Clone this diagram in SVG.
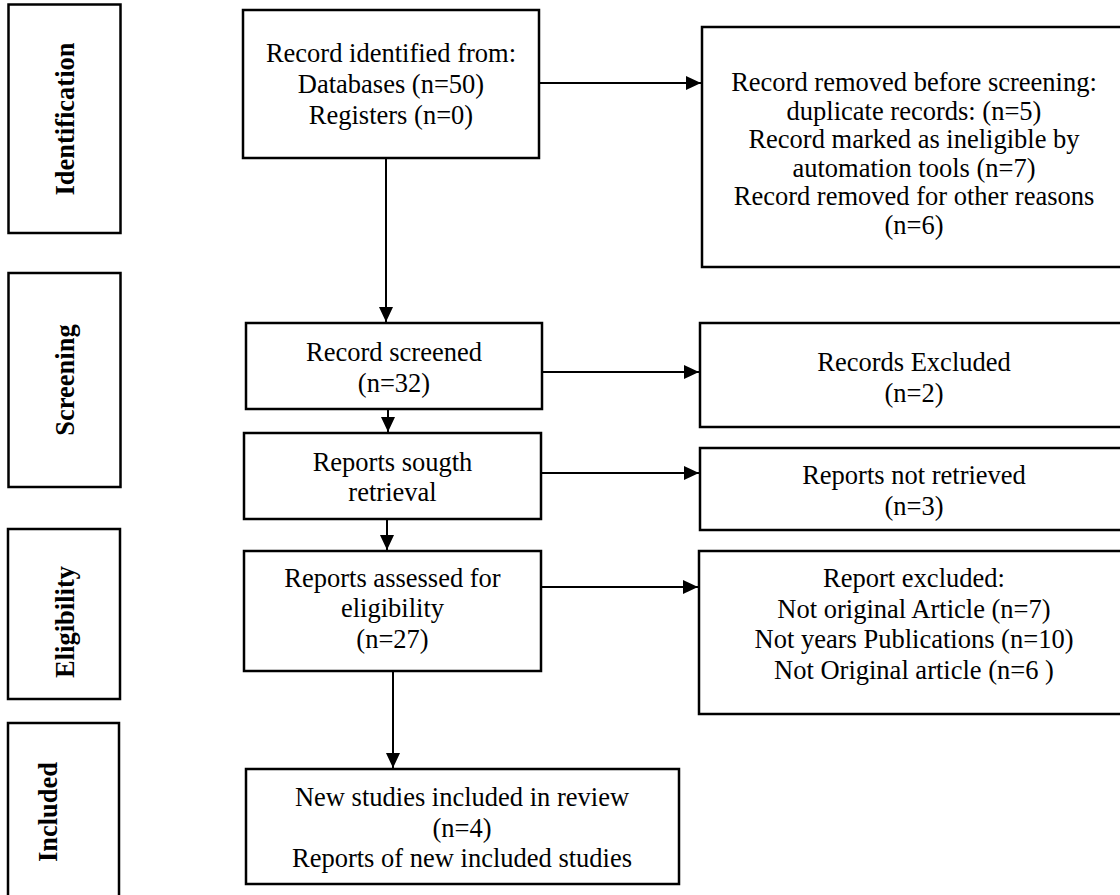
<svg xmlns="http://www.w3.org/2000/svg" width="1120" height="895" viewBox="0 0 1120 895">
<style>
.box{fill:#fff;stroke:#000;stroke-width:2.5}
.t{font-family:"Liberation Serif","Times New Roman",serif;font-size:26.5px;fill:#000;text-anchor:middle}
.lab{font-family:"Liberation Serif","Times New Roman",serif;font-size:26.5px;font-weight:bold;fill:#000;text-anchor:middle}
.ln{stroke:#000;stroke-width:2;fill:none;marker-end:url(#ah)}
</style>
<defs>
<marker id="ah" markerUnits="userSpaceOnUse" markerWidth="16" markerHeight="16" refX="15" refY="7" orient="auto">
<path d="M0,0 L15,7 L0,14 z" fill="#000"/>
</marker>
</defs>
<rect width="1120" height="895" fill="#fff"/>

<g id="phase-identification">
<rect class="box" x="8.5" y="4.5" width="112" height="228.5"/>
<text class="lab" transform="translate(74,119) rotate(-90)">Identification</text>
</g>
<g id="phase-screening">
<rect class="box" x="8.5" y="273" width="112" height="214"/>
<text class="lab" transform="translate(74,380) rotate(-90)">Screening</text>
</g>
<g id="phase-eligibility">
<rect class="box" x="8" y="529" width="112" height="170"/>
<text class="lab" transform="translate(74,622) rotate(-90)">Eligibility</text>
</g>
<g id="phase-included">
<rect class="box" x="8" y="723" width="111" height="190"/>
<text class="lab" transform="translate(57,812) rotate(-90)">Included</text>
</g>

<g id="identified">
<rect class="box" x="243" y="10" width="296" height="148"/>
<text class="t" x="391" y="62">Record identified from:</text>
<text class="t" x="391" y="93">Databases (n=50)</text>
<text class="t" x="391" y="124">Registers (n=0)</text>
</g>
<g id="removed">
<rect class="box" x="702" y="27" width="430" height="240"/>
<text class="t" x="914" y="91">Record removed before screening:</text>
<text class="t" x="914" y="119.5">duplicate records: (n=5)</text>
<text class="t" x="914" y="148">Record marked as ineligible by</text>
<text class="t" x="914" y="176.5">automation tools (n=7)</text>
<text class="t" x="914" y="205">Record removed for other reasons</text>
<text class="t" x="914" y="233.5">(n=6)</text>
</g>
<g id="screened">
<rect class="box" x="246" y="323" width="296" height="86"/>
<text class="t" x="394" y="361">Record screened</text>
<text class="t" x="394" y="392">(n=32)</text>
</g>
<g id="excluded">
<rect class="box" x="700" y="323" width="430" height="104"/>
<text class="t" x="914" y="371">Records Excluded</text>
<text class="t" x="914" y="402">(n=2)</text>
</g>
<g id="sought">
<rect class="box" x="244" y="433" width="297" height="86"/>
<text class="t" x="392.5" y="471">Reports sougth</text>
<text class="t" x="392.5" y="501">retrieval</text>
</g>
<g id="not-retrieved">
<rect class="box" x="700" y="448" width="430" height="82"/>
<text class="t" x="914" y="484">Reports not retrieved</text>
<text class="t" x="914" y="515">(n=3)</text>
</g>
<g id="assessed">
<rect class="box" x="244" y="551" width="297" height="120"/>
<text class="t" x="392.5" y="587">Reports assessed for</text>
<text class="t" x="392.5" y="617">eligibility</text>
<text class="t" x="392.5" y="648">(n=27)</text>
</g>
<g id="report-excluded">
<rect class="box" x="699" y="551" width="430" height="163"/>
<text class="t" x="914" y="587">Report excluded:</text>
<text class="t" x="914" y="618">Not original Article (n=7)</text>
<text class="t" x="914" y="648">Not years Publications (n=10)</text>
<text class="t" x="914" y="679">Not Original article (n=6 )</text>
</g>
<g id="included">
<rect class="box" x="246" y="769" width="433" height="115"/>
<text class="t" x="462" y="806">New studies included in review</text>
<text class="t" x="462" y="837">(n=4)</text>
<text class="t" x="462" y="867">Reports of new included studies</text>
</g>

<g id="connectors">
<path class="ln" d="M539,83 H701"/>
<path class="ln" d="M386,158 V322"/>
<path class="ln" d="M542,372 H699"/>
<path class="ln" d="M388,409 V432"/>
<path class="ln" d="M541,473 H699"/>
<path class="ln" d="M387,519 V550"/>
<path class="ln" d="M541,587 H698"/>
<path class="ln" d="M393,671 V768"/>
</g>
</svg>
